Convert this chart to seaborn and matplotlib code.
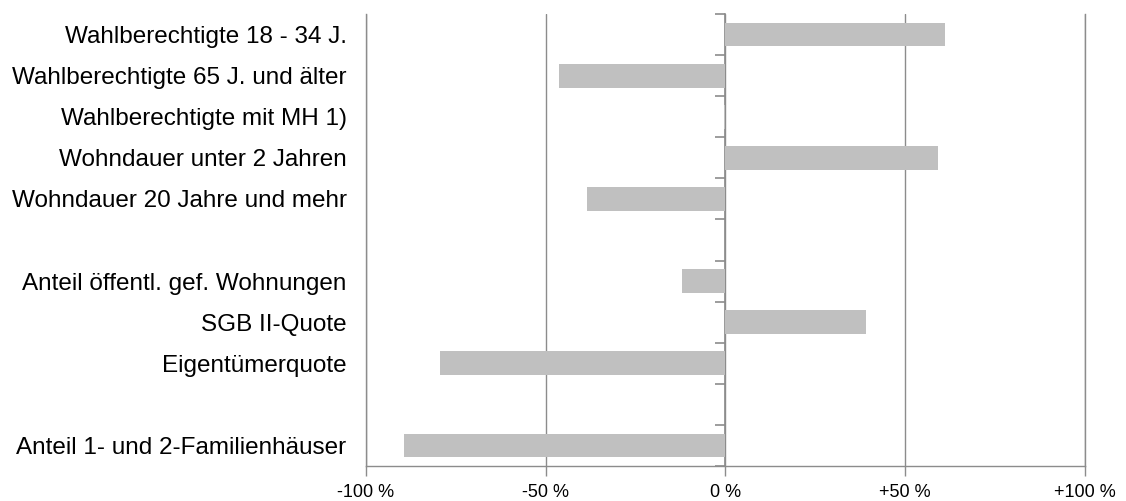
import matplotlib.pyplot as plt
import numpy as np
import pandas as pd
import seaborn as sns

# categories (blank slots keep the gaps between the groups)
labels = [
    "Wahlberechtigte 18 - 34 J.",
    "Wahlberechtigte 65 J. und älter",
    "Wahlberechtigte mit MH 1)",
    "Wohndauer unter 2 Jahren",
    "Wohndauer 20 Jahre und mehr",
    " ",
    "Anteil öffentl. gef. Wohnungen",
    "SGB II-Quote",
    "Eigentümerquote",
    "  ",
    "Anteil 1- und 2-Familienhäuser",
]
values = [61.0, -46.4, -0.4, 59.2, -38.6, np.nan, -12.0, 39.2, -79.4, np.nan, -89.4]
xticks = [-100, -50, 0, 50, 100]
xticklabels = ["-100 %", "-50 %", "0 %", "+50 %", "+100 %"]

sns.set_theme(style="white")
plt.rcParams["font.family"] = ["Liberation Sans", "DejaVu Sans"]

df = pd.DataFrame({"label": labels, "value": values})

fig = plt.figure(figsize=(11.26, 5.01), dpi=100)
ax = fig.add_axes([0.325, 0.0699, 0.6386, 0.9021])

grey = "#8c8c8c"
sns.barplot(data=df, x="value", y="label", order=labels, orient="h",
            color="#c0c0c0", saturation=1, width=0.58, linewidth=0, ax=ax)

ax.set_xlim(-100, 100)
ax.set_ylim(len(labels) - 0.5, -0.5)
ax.set_xticks(xticks)
ax.set_xticklabels(xticklabels)
ax.set_xlabel("")
ax.set_ylabel("")
ax.tick_params(axis="y", length=0, pad=14)
ax.tick_params(axis="x", bottom=True, length=7, width=1, color=grey, pad=6)
for lab in ax.get_yticklabels():
    lab.set_color("black")
    lab.set_fontsize(17.5)
for lab in ax.get_xticklabels():
    lab.set_color("black")
    lab.set_fontsize(13)

# vertical grid lines
ax.grid(axis="x", color=grey, linewidth=1)
ax.grid(axis="y", visible=False)
ax.set_axisbelow(True)

ax.spines["top"].set_visible(False)
for side in ["left", "bottom", "right"]:
    ax.spines[side].set_color(grey)
    ax.spines[side].set_linewidth(1)

# small ticks between categories along the zero line
sec = ax.secondary_yaxis(0.5)
sec.set_yticks(np.arange(-0.5, len(labels), 1.0))
sec.set_yticklabels([])
sec.tick_params(axis="y", length=7, width=1.2, color=grey, direction="in")
for sp in sec.spines.values():
    sp.set_color(grey)
    sp.set_linewidth(1.2)

fig.savefig("out.png", dpi=100)
